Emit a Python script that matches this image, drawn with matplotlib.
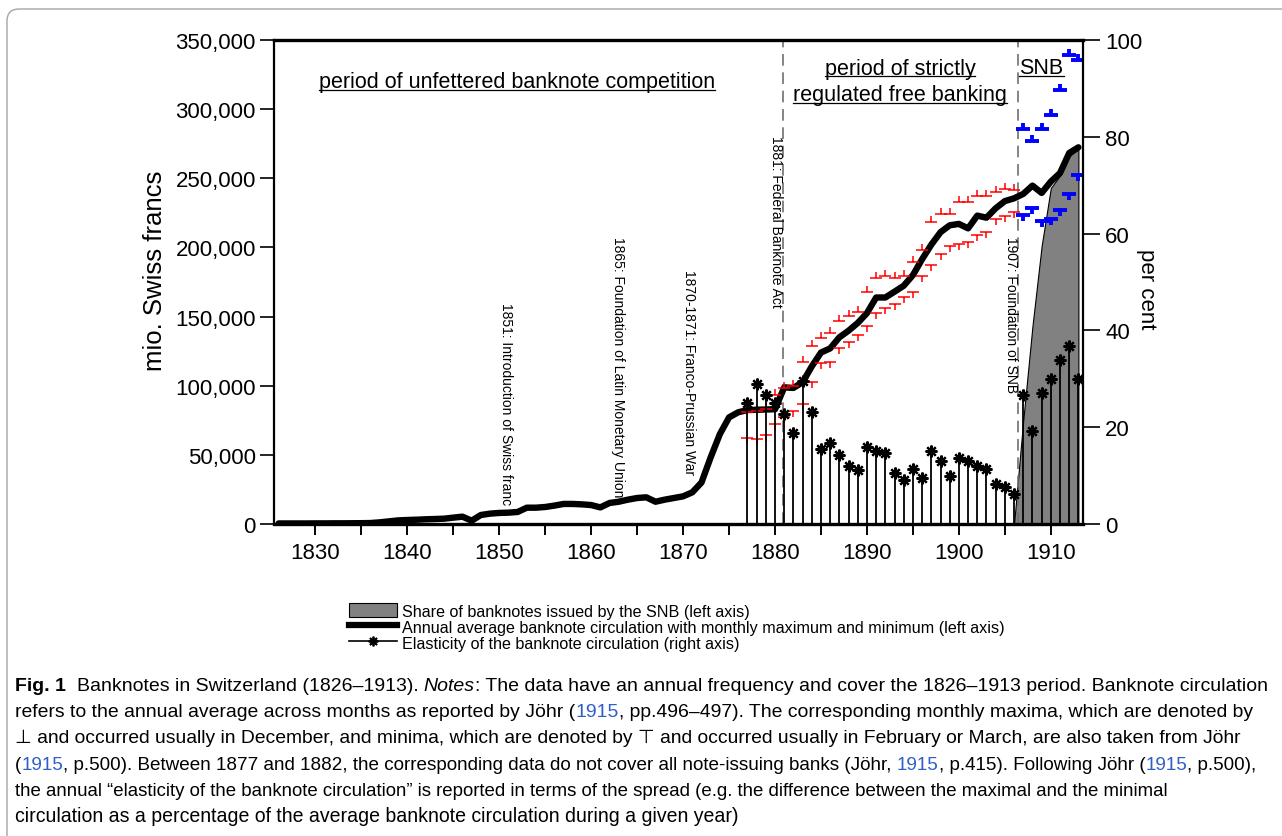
import matplotlib
matplotlib.use('Agg')
import matplotlib.pyplot as plt
from matplotlib.path import Path
from matplotlib.lines import Line2D
from matplotlib.patches import Patch, FancyBboxPatch
from matplotlib.ticker import FuncFormatter, MultipleLocator
from matplotlib.transforms import IdentityTransform
from matplotlib.font_manager import FontProperties
from matplotlib import font_manager

# ---------------- data ----------------
years = list(range(1826, 1914))
circulation = [400, 400, 400, 400, 450, 450, 500, 500, 550, 600,
               700, 1200, 1900, 2600, 2900, 3100, 3400, 3600, 3850, 4600,
               5300, 2400, 6500, 7500, 8000, 8200, 8700, 11800, 11800, 12300,
               13300, 14500, 14500, 14200, 13700, 12000, 15200, 16100, 17600, 18800,
               19300, 16100, 17600, 18800, 20000, 22900, 30000, 48200, 65000, 77100,
               80800, 82400, 82600, 82800, 83000, 98800, 98400, 102500, 114000, 124000,
               127000, 135000, 139800, 145400, 152500, 163800, 163800, 168000, 172300, 180000,
               191500, 202000, 211000, 216000, 217000, 213800, 223000, 221500, 228300, 233500,
               235500, 238700, 244700, 239400, 247600, 253800, 268300, 272400]

red_years = list(range(1877, 1907))
red_max = [80800, 81900, 83200, 93300, 98100, 99800, 116900, 129000, 134300, 138100,
           147000, 150200, 153600, 168000, 177700, 179600, 177700, 179600, 189200, 198400,
           218200, 224200, 224200, 233100, 233100, 237400, 237400, 240300, 242300, 241800]
red_min = [62000, 61500, 64400, 72300, 77200, 81400, 86800, 102900, 116400, 116900,
           127300, 131400, 136700, 143400, 152600, 156000, 159100, 163900, 168000, 179100,
           187300, 195300, 201300, 202500, 203700, 209000, 211400, 220600, 223000, 225900]

blue_years = list(range(1907, 1914))
blue_max = [286000, 277000, 285500, 296000, 313500, 339000, 335300]
blue_min = [223200, 228400, 219200, 220600, 226800, 238300, 252100]

elast_years = list(range(1877, 1914))
elasticity = [24.9, 29.0, 26.6, 25.0, 22.8, 18.8, 29.5, 23.1, 15.5, 16.7,
              14.2, 11.9, 11.1, 15.9, 15.1, 14.6, 10.6, 9.0, 11.3, 9.6,
              15.0, 13.1, 10.0, 13.6, 13.1, 11.9, 11.3, 8.3, 7.6, 6.2,
              26.6, 19.3, 27.1, 30.0, 33.8, 36.7, 30.0]

snb_years = list(range(1906, 1914))
snb_share = [0, 75000, 143000, 201000, 243000, 252000, 266000, 271000]

legend_labels = ['Share of banknotes issued by the SNB (left axis)',
                 'Annual average banknote circulation with monthly maximum and minimum (left axis)',
                 'Elasticity of the banknote circulation (right axis)']

# ---------------- figure ----------------
W, H = 1282, 837
def fx(px): return px / W
def fy(py): return 1 - py / H

plt.rcParams['font.family'] = ['Liberation Sans', 'DejaVu Sans']

fig = plt.figure(figsize=(W / 100, H / 100), dpi=100)
ax = fig.add_axes([fx(274), fy(525), (1083 - 274) / W, (525 - 41) / H])
ax2 = ax.twinx()

# SNB share area
ax.fill_between(snb_years, 0, snb_share, facecolor='#818181', edgecolor='black',
                linewidth=0.8, zorder=1)
# average circulation
ax.plot(years, circulation, color='black', lw=4.6, solid_joinstyle='round',
        solid_capstyle='round', zorder=3)

# max / min markers
up = Path([(-1, 0), (1, 0), (0, 0), (0, 1.0)],
          [Path.MOVETO, Path.LINETO, Path.MOVETO, Path.LINETO])
down = Path([(-1, 0), (1, 0), (0, 0), (0, -1.0)],
            [Path.MOVETO, Path.LINETO, Path.MOVETO, Path.LINETO])
up_b = Path([(-1, 0), (1, 0), (0, 0), (0, 0.9)],
            [Path.MOVETO, Path.LINETO, Path.MOVETO, Path.LINETO])
down_b = Path([(-1, 0), (1, 0), (0, 0), (0, -0.9)],
              [Path.MOVETO, Path.LINETO, Path.MOVETO, Path.LINETO])

ax.plot(red_years, red_max, ls='none', marker=up, ms=9, mew=1.1, mec='#ff0000',
        mfc='none', zorder=4)
ax.plot(red_years, red_min, ls='none', marker=down, ms=9, mew=1.1, mec='#ff0000',
        mfc='none', zorder=4)
ax.plot(blue_years, blue_max, ls='none', marker=up_b, ms=10, mew=2.8, mec='#0000ff',
        mfc='none', zorder=4)
ax.plot(blue_years, blue_min, ls='none', marker=down_b, ms=10, mew=2.8, mec='#0000ff',
        mfc='none', zorder=4)

# event lines
ax.axvline(1880.9, color='#707070', lw=1.2, ls=(0, (7, 4)), zorder=2)
ax.axvline(1906.45, color='#707070', lw=1.2, ls=(0, (7, 4)), zorder=2)

# elasticity stems
ax2.vlines(elast_years, 0, elasticity, color='black', lw=1.3, zorder=2)
ax2.plot(elast_years, elasticity, ls='none', marker=(8, 2, 0), ms=8.5, mew=1.6,
         color='black', zorder=5)

# axes limits & ticks
ax.set_xlim(1825.5, 1913.5)
ax.set_ylim(0, 350000)
ax2.set_ylim(0, 100)
ax.xaxis.set_major_locator(MultipleLocator(10))
ax.xaxis.set_minor_locator(MultipleLocator(5))
ax.yaxis.set_major_locator(MultipleLocator(50000))
ax.yaxis.set_major_formatter(FuncFormatter(lambda v, p: f'{v:,.0f}'))
ax2.yaxis.set_major_locator(MultipleLocator(20))

ax.tick_params(axis='x', which='both', direction='out', length=8, width=1.4,
               labelsize=16, pad=5)
ax.tick_params(axis='y', which='major', direction='out', length=10, width=1.2,
               labelsize=16, pad=3)
ax2.tick_params(axis='y', which='major', direction='out', length=12, width=1.2,
                labelsize=16, pad=4)

for s in ['top', 'bottom']:
    ax.spines[s].set_linewidth(2.4)
ax.spines['left'].set_linewidth(1.6)
ax.spines['right'].set_visible(False)
for s in ['top', 'bottom', 'left']:
    ax2.spines[s].set_visible(False)
ax2.spines['right'].set_linewidth(1.6)

# vertical annotations
ann_kw = dict(rotation=270, ha='center', va='top', fontsize=10, zorder=6)
ax.text(1850.76, 160500, '1851: Introduction of Swiss franc', **ann_kw)
ax.text(1862.88, 208300, '1865: Foundation of Latin Monetary Union', **ann_kw)
ax.text(1870.65, 184400, '1870-1871: Franco-Prussian War', **ann_kw)
ax.text(1880.1, 281300, '1881: Federal Banknote Act', **ann_kw)
ax.text(1905.65, 208300, '1907: Foundation of SNB', **ann_kw)

# axis labels
fig.text(fx(155), fy(271), 'mio. Swiss francs', rotation=90, ha='center',
         va='center', fontsize=18.5)
fig.text(fx(1146), fy(289), 'per cent', rotation=270, ha='center', va='center',
         fontsize=16)

renderer = fig.canvas.get_renderer()

# period labels (underlined)
def underlined(xc, base_py, txt, size=15.5):
    t = fig.text(fx(xc), fy(base_py), txt, ha='center', va='baseline', fontsize=size)
    bb = t.get_window_extent(renderer)
    yd = (H - base_py) - 2.8
    fig.add_artist(Line2D([bb.x0, bb.x1], [yd, yd], color='black', lw=0.9,
                          transform=IdentityTransform()))

underlined(517, 88, 'period of unfettered banknote competition')
underlined(900, 74.5, 'period of strictly')
underlined(900, 101, 'regulated free banking')
underlined(1041.5, 74.5, 'SNB')

# legend
handles = [Patch(facecolor='#818181', edgecolor='black', lw=0.8),
           Line2D([], [], color='black', lw=4.5),
           Line2D([], [], color='black', lw=1.2, marker=(8, 2, 0), ms=7, mew=1.3)]
fig.legend(handles, legend_labels, loc='upper left',
           bbox_to_anchor=(fx(349), fy(604)), frameon=False, fontsize=11.6,
           handlelength=3.0, handleheight=1.0, handletextpad=0.3,
           labelspacing=0.02, borderpad=0, borderaxespad=0)

# outer rounded frame
box = FancyBboxPatch((7, -60), 1400, (H - 10) + 60,
                     boxstyle='round,pad=0,rounding_size=12',
                     transform=IdentityTransform(), fill=False,
                     edgecolor='#a5a5a5', lw=1.0)
fig.add_artist(box)

# caption
names = {f.name for f in font_manager.fontManager.ttflist}
cap_family = ['Liberation Sans Narrow', 'DejaVu Sans'] if 'Liberation Sans Narrow' in names \
    else ['Liberation Sans', 'DejaVu Sans']
BLUE = '#2e5fc6'
caption = [
    [('Fig. 1', 'bold', 'normal', 'black'),
     ('  Banknotes in Switzerland (1826–1913). ', 'normal', 'normal', 'black'),
     ('Notes', 'normal', 'italic', 'black'),
     (': The data have an annual frequency and cover the 1826–1913 period. Banknote circulation',
      'normal', 'normal', 'black')],
    [('refers to the annual average across months as reported by Jöhr (', 'normal', 'normal', 'black'),
     ('1915', 'normal', 'normal', BLUE),
     (', pp.496–497). The corresponding monthly maxima, which are denoted by', 'normal', 'normal', 'black')],
    [('⊥ and occurred usually in December, and minima, which are denoted by ⊤ and occurred '
      'usually in February or March, are also taken from Jöhr', 'normal', 'normal', 'black')],
    [('(', 'normal', 'normal', 'black'), ('1915', 'normal', 'normal', BLUE),
     (', p.500). Between 1877 and 1882, the corresponding data do not cover all note-issuing banks (Jöhr, ',
      'normal', 'normal', 'black'),
     ('1915', 'normal', 'normal', BLUE),
     (', p.415). Following Jöhr (', 'normal', 'normal', 'black'),
     ('1915', 'normal', 'normal', BLUE),
     (', p.500),', 'normal', 'normal', 'black')],
    [('the annual “elasticity of the banknote circulation” is reported in terms of the spread '
      '(e.g. the difference between the maximal and the minimal', 'normal', 'normal', 'black')],
    [('circulation as a percentage of the average banknote circulation during a given year)',
      'normal', 'normal', 'black')],
]
cap_y = [686, 712, 738, 765, 791, 817]
cap_right = [1265, 1252, 1243, 1265, 1170, 745]
cap_left = 15.0


def prop_for(size, weight, style):
    return FontProperties(family=cap_family, size=size, weight=weight, style=style)


def tw(s, prop):
    w, h, d = renderer.get_text_width_height_descent(s, prop, ismath=False)
    return w


def adv(s, prop):
    return tw('x' + s + 'x', prop) - tw('xx', prop)


def line_width(segs, size):
    return sum(adv(t, prop_for(size, wgt, sty)) for t, wgt, sty, c in segs)

base_size = 12.0
for segs, yc, xr in zip(caption, cap_y, cap_right):
    size = base_size * (xr - cap_left) / line_width(segs, base_size)
    size = max(13.4, min(size, 14.05))
    x = cap_left
    for t, wgt, sty, col in segs:
        prop = prop_for(size, wgt, sty)
        nlead = len(t) - len(t.lstrip(' '))
        xd = x + (adv(' ' * nlead, prop) if nlead else 0.0)
        fig.text(fx(xd), fy(yc + 5), t.strip(), fontproperties=prop, color=col,
                 ha='left', va='baseline')
        x += adv(t, prop)

fig.savefig('out.png', dpi=100)
